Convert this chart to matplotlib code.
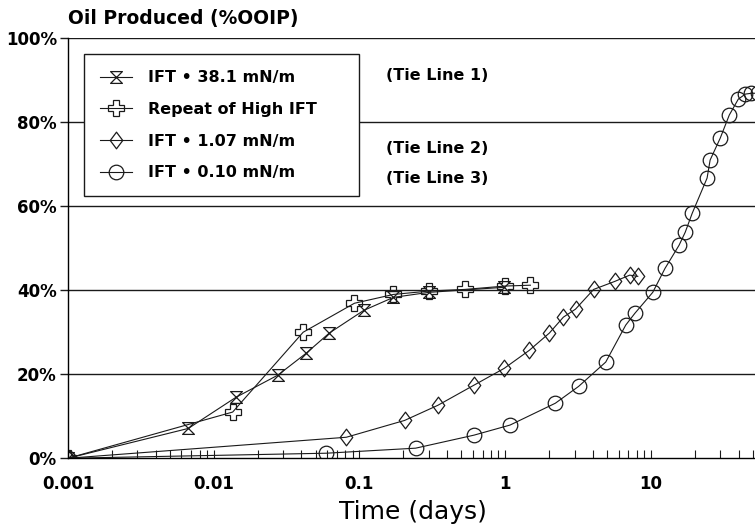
import numpy as np
import matplotlib
matplotlib.use('Agg')
import matplotlib.pyplot as plt
from matplotlib.path import Path
from matplotlib.ticker import FixedLocator, NullFormatter

# Oil recovery vs. time for the different IFT runs
t_high = [0.001, 0.0067, 0.0142, 0.0276, 0.0431, 0.0621, 0.107, 0.171, 0.30, 0.985]
oil_high = [0, 7.1, 14.5, 19.8, 25.0, 29.8, 35.2, 38.3, 39.5, 40.7]

t_repeat = [0.001, 0.0135, 0.0411, 0.0924, 0.171, 0.30, 0.53, 1.0, 1.49]
oil_repeat = [0, 11.0, 30.0, 36.9, 39.0, 39.8, 40.2, 41.0, 41.2]

t_mid = [0.001, 0.0813, 0.204, 0.345, 0.611, 0.985, 1.465, 2.01, 2.51, 3.04,
         4.05, 5.65, 7.16, 8.13]
oil_mid = [0, 5.0, 9.0, 12.6, 17.4, 21.4, 25.7, 29.8, 33.6, 35.5,
           40.2, 42.1, 43.6, 43.3]

t_low = [0.001, 0.0592, 0.243, 0.611, 1.08, 2.21, 3.19, 4.9, 6.72, 7.76, 10.3,
         12.5, 15.6, 17.2, 19.2, 24.3, 25.5, 29.9, 34.5, 39.8, 44.5, 49.0, 54.7]
oil_low = [0, 1.2, 2.4, 5.5, 7.9, 13.1, 17.1, 22.9, 31.7, 34.5, 39.5,
           45.2, 50.7, 53.8, 58.3, 66.7, 71.0, 76.2, 81.7, 85.5, 86.7, 86.9, 86.9]

labels = ['IFT \u2022 38.1 mN/m', 'Repeat of High IFT',
          'IFT \u2022 1.07 mN/m', 'IFT \u2022 0.10 mN/m']
tie_lines = ['(Tie Line 1)', '(Tie Line 2)', '(Tie Line 3)']
y_ticks = [0, 20, 40, 60, 80, 100]
x_ticks = [0.001, 0.01, 0.1, 1, 10]
x_ticklabels = ['0.001', '0.01', '0.1', '1', '10']

# custom markers: hourglass and a slightly narrow diamond
hourglass = Path([(-1, 1), (1, 1), (-1, -1), (1, -1), (-1, 1)],
                 [Path.MOVETO, Path.LINETO, Path.LINETO, Path.LINETO, Path.CLOSEPOLY])
diamond = Path([(0, 1), (0.75, 0), (0, -1), (-0.75, 0), (0, 1)],
               [Path.MOVETO, Path.LINETO, Path.LINETO, Path.LINETO, Path.CLOSEPOLY])

plt.rcParams['font.family'] = ['DejaVu Sans']

fig = plt.figure(figsize=(7.55, 5.31), dpi=100)
ax = fig.add_axes([0.090, 0.137, 0.915, 0.791])

ink = '#1a1a1a'
style = dict(color=ink, lw=0.8, mfc='none', mew=0.9)
h1, = ax.plot(t_high, oil_high, marker=hourglass, ms=8.5, **style)
h2, = ax.plot(t_repeat, oil_repeat, marker='P', ms=11, **style)
h3, = ax.plot(t_mid, oil_mid, marker=diamond, ms=12, **style)
h4, = ax.plot(t_low, oil_low, marker='o', ms=10.5, **style)

ax.set_xscale('log')
ax.set_xlim(0.001, 55)
ax.set_ylim(0, 100)

ax.set_yticks(y_ticks)
ax.set_yticklabels([f'{v}%' for v in y_ticks], fontsize=12, fontweight='bold')
ax.set_xticks(x_ticks)
ax.set_xticklabels(x_ticklabels, fontsize=12, fontweight='bold')
ax.xaxis.set_minor_locator(FixedLocator(
    [m * 10.0 ** e for e in range(-3, 2) for m in range(2, 10)]))
ax.xaxis.set_minor_formatter(NullFormatter())
ax.tick_params(axis='x', which='both', direction='in', length=6, width=0.8,
               color=ink, pad=12)
ax.tick_params(axis='y', direction='out', length=6, width=1.0, color=ink, pad=2)

for v in y_ticks[1:]:
    ax.axhline(v, color=ink, lw=1.0, zorder=0)

for side in ['top', 'right']:
    ax.spines[side].set_visible(False)
ax.spines['left'].set_linewidth(1.0)
ax.spines['bottom'].set_linewidth(1.0)

ax.set_xlabel('Time (days)', fontsize=18, labelpad=5)
fig.text(0.090, 0.966, 'Oil Produced (%OOIP)', fontsize=13.5, fontweight='bold',
         va='center', ha='left')

leg = ax.legend([h1, h2, h3, h4], labels, loc='upper left',
                bbox_to_anchor=(0.023, 0.962, 0.398, 0), mode='expand',
                frameon=True, fancybox=False,
                edgecolor=ink, framealpha=1, handlelength=2.0,
                prop={'size': 11.5, 'weight': 'bold'}, labelspacing=1.05,
                borderpad=1.0, handletextpad=1.0, borderaxespad=0)
leg.get_frame().set_linewidth(1.0)

for txt, y in zip(tie_lines, [0.912, 0.738, 0.665]):
    ax.text(0.46, y, txt, transform=ax.transAxes, fontsize=11.5,
            fontweight='bold', va='center', ha='left')

fig.savefig('out.png', dpi=100)
